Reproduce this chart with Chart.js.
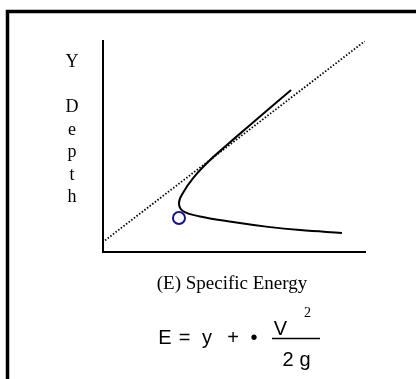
<!DOCTYPE html>
<html>
<head>
<meta charset="utf-8">
<script src="https://cdn.jsdelivr.net/npm/chart.js@4/dist/chart.umd.min.js"></script>
<style>
  html, body { margin: 0; padding: 0; background: #fff; overflow: hidden; }
  #grafico { display: block; }
</style>
</head>
<body>
<canvas id="grafico" width="416" height="379"></canvas>
<script>
// specific energy curve: E on the horizontal axis, depth y on the vertical one
var curvaE = [7.18, 6.37, 5.57, 4.77, 4.01, 3.44, 3.05, 2.90, 3.05, 3.70, 4.96, 6.30, 7.52, 9.12]
var curvaY = [7.56, 6.67, 5.77, 4.87, 3.98, 3.18, 2.44, 1.94, 1.54, 1.27, 0.99, 0.75, 0.59, 0.45]

// E = y reference line
var rectaE = [0.08, 10]
var rectaY = [0.08, 10]

// critical depth
var criticoE = [2.90]
var criticoY = [1.19]

var letrasEje = ['Y', '', 'D', 'e', 'p', 't', 'h']
var tituloX = '(E) Specific Energy'

function puntos(xs, ys) {
    return xs.map(function (x, i) { return { x: x, y: ys[i] } })
}

// frame, axis labels and the formula under the chart
var textos = {
    id: 'textos',
    afterDraw: function (chart) {
        var c = chart.ctx
        c.save()
        c.strokeStyle = '#000'
        c.lineWidth = 3.5
        c.strokeRect(7.5, 11.5, 600, 600)

        c.fillStyle = '#000'
        c.textAlign = 'center'
        c.textBaseline = 'alphabetic'
        c.font = '18px "Liberation Serif", "Times New Roman", serif'
        letrasEje.forEach(function (l, i) {
            c.fillText(l, 72, 67 + i * 22.5)
        })
        c.font = '19px "Liberation Serif", "Times New Roman", serif'
        c.fillText(tituloX, 232, 289)

        c.font = '20px "Liberation Sans", Arial, sans-serif'
        c.fillText('E', 165, 344)
        c.fillText('=', 184.5, 344)
        c.fillText('y', 207, 344)
        c.fillText('+', 233, 344)
        c.fillText('\u2022', 254, 344)
        c.fillText('V', 280.5, 335)
        c.fillText('2', 288, 366)
        c.fillText('g', 305, 366)
        c.font = '14px "Liberation Serif", "Times New Roman", serif'
        c.fillText('2', 307.5, 317)

        c.lineWidth = 1.5
        c.beginPath()
        c.moveTo(272, 338.5)
        c.lineTo(320, 338.5)
        c.stroke()
        c.restore()
    }
}

var ctx = document.getElementById('grafico')
var mychart = new Chart(ctx, {
    type: 'scatter',
    data: {
        datasets: [
            {
                data: puntos(rectaE, rectaY),
                showLine: true,
                borderColor: '#000',
                borderWidth: 1.8,
                borderDash: [1.5, 1.8],
                pointRadius: 0
            },
            {
                data: puntos(curvaE, curvaY),
                showLine: true,
                borderColor: '#000',
                borderWidth: 2,
                tension: 0.4,
                pointRadius: 0
            },
            {
                data: puntos(criticoE, criticoY),
                pointRadius: 6,
                pointBorderWidth: 2,
                pointBorderColor: '#14148c',
                pointBackgroundColor: 'rgba(0,0,0,0)'
            }
        ]
    },
    options: {
        responsive: false,
        animation: false,
        layout: { padding: { left: 103, right: 51, top: 41, bottom: 127 } },
        plugins: { legend: { display: false }, tooltip: { enabled: false } },
        scales: {
            x: {
                min: 0, max: 10,
                ticks: { display: false },
                grid: { display: false, drawTicks: false },
                border: { color: '#000', width: 2 }
            },
            y: {
                min: -0.5, max: 10,
                ticks: { display: false },
                grid: { display: false, drawTicks: false },
                border: { color: '#000', width: 2 }
            }
        }
    },
    plugins: [textos]
})
</script>
</body>
</html>
